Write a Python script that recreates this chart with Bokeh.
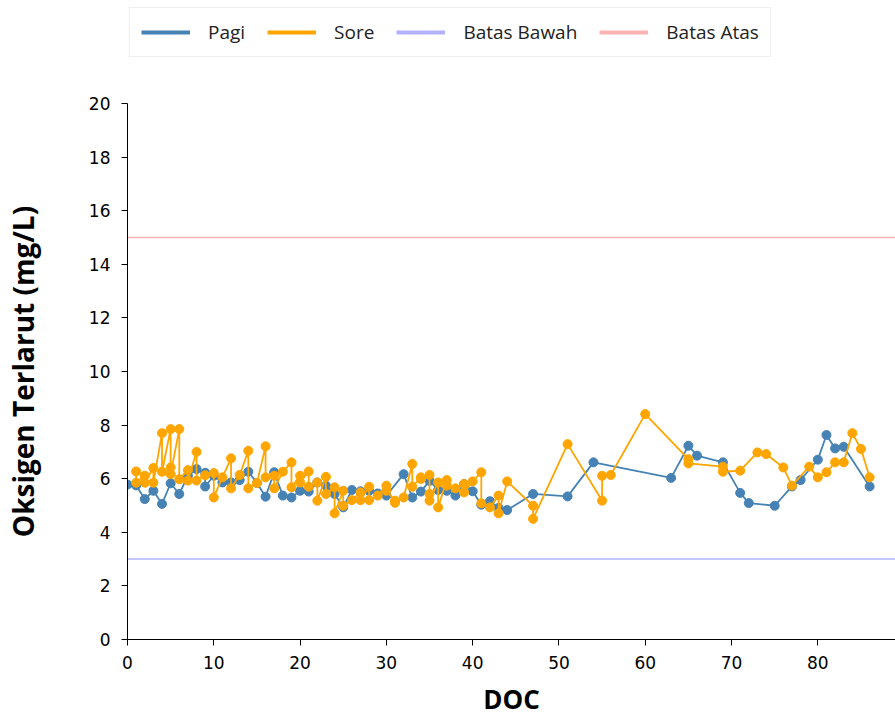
from bokeh.plotting import figure
from bokeh.layouts import column
from bokeh.models import Range1d, SingleIntervalTicker, Legend, LegendItem, Span
from bokeh.embed import file_html
from bokeh.resources import INLINE

# --- data ---
pagi_doc = [0, 1, 2, 3, 4, 5, 6, 7, 8, 9, 9, 10, 11, 12, 13, 14, 15, 16, 17, 18, 19,
            20, 21, 22, 23, 24, 25, 26, 27, 28, 29, 30, 32, 33, 34, 35, 36, 37, 38, 39,
            40, 41, 42, 43, 44, 47, 51, 54, 63, 65, 66, 69, 71, 72, 75, 77, 78, 80,
            81, 82, 83, 86]
pagi_do = [5.78, 5.75, 5.24, 5.55, 5.06, 5.83, 5.43, 6.11, 6.36, 6.22, 5.71, 6.11, 5.86,
           5.86, 5.95, 6.26, 5.84, 5.33, 6.24, 5.37, 5.30, 5.55, 5.52, 5.86, 5.74, 5.43,
           4.93, 5.58, 5.53, 5.55, 5.45, 5.37, 6.17, 5.30, 5.52, 5.92, 5.58, 5.55, 5.37,
           5.80, 5.53, 5.03, 5.16, 4.91, 4.83, 5.43, 5.34, 6.61, 6.03, 7.23, 6.86, 6.61,
           5.47, 5.09, 4.99, 5.71, 5.95, 6.71, 7.63, 7.13, 7.19, 5.71]

sore_doc = [1, 1, 2, 2, 3, 3, 4, 4, 5, 5, 5, 6, 6, 7, 7, 8, 8, 9, 10, 10, 11, 12, 12,
            13, 14, 14, 15, 16, 16, 17, 17, 18, 19, 19, 20, 20, 21, 21, 22, 22, 23, 23,
            24, 24, 25, 25, 26, 27, 27, 28, 28, 29, 30, 30, 31, 31, 32, 33, 33, 34, 34,
            35, 35, 35, 36, 36, 37, 37, 38, 39, 39, 40, 41, 41, 42, 43, 43, 44, 47, 47,
            51, 55, 55, 56, 60, 65, 65, 69, 69, 71, 73, 74, 76, 77, 79, 80, 81, 82, 83,
            84, 85, 86]
sore_do = [6.27, 5.85, 6.11, 5.85, 6.40, 5.85, 7.70, 6.26, 7.85, 6.42, 6.17, 7.85, 5.98,
           6.32, 5.93, 7.00, 5.93, 6.13, 6.21, 5.30, 6.05, 6.76, 5.64, 6.14, 7.04, 5.64,
           5.84, 7.21, 6.05, 6.11, 5.64, 6.26, 6.61, 5.68, 6.11, 5.86, 6.27, 5.70, 5.86,
           5.18, 6.07, 5.43, 5.68, 4.71, 5.55, 4.99, 5.20, 5.49, 5.20, 5.70, 5.20, 5.37,
           5.74, 5.55, 5.18, 5.10, 5.30, 6.55, 5.70, 6.05, 5.99, 6.14, 5.43, 5.18, 5.86,
           4.93, 5.95, 5.74, 5.64, 5.80, 5.49, 5.90, 6.24, 5.08, 4.93, 5.37, 4.71, 5.90,
           4.99, 4.50, 7.29, 5.18, 6.11, 6.14, 8.41, 6.73, 6.57, 6.45, 6.26, 6.30, 6.98,
           6.92, 6.42, 5.74, 6.45, 6.05, 6.24, 6.61, 6.61, 7.70, 7.11, 6.05]

batas_bawah = 3
batas_atas = 15

blue = "#4682b4"
orange = "#ffa500"
nan = float("nan")

# --- main plot ---
p = figure(
    width=895, height=624,
    x_range=Range1d(0, 89.0), y_range=Range1d(0, 20),
    output_backend="svg", toolbar_location=None,
    min_border_left=127, min_border_right=0,
    min_border_top=8, min_border_bottom=80,
    x_axis_label="DOC", y_axis_label="Oksigen Terlarut (mg/L)",
)
p.outline_line_color = None
p.grid.grid_line_color = None

# reference limits
p.add_layout(Span(location=batas_bawah, dimension="width",
                  line_color="blue", line_alpha=0.3, line_width=1.5))
p.add_layout(Span(location=batas_atas, dimension="width",
                  line_color="red", line_alpha=0.3, line_width=1.5))

# series
p.line(pagi_doc, pagi_do, line_color=blue, line_width=1.8)
p.scatter(pagi_doc, pagi_do, size=9, color=blue)
p.line(sore_doc, sore_do, line_color=orange, line_width=1.8)
p.scatter(sore_doc, sore_do, size=9, color=orange)

# axes
p.xaxis.ticker = SingleIntervalTicker(interval=10)
p.yaxis.ticker = SingleIntervalTicker(interval=2)
for ax in (p.xaxis, p.yaxis):
    ax.axis_line_color = "black"
    ax.major_tick_line_color = "black"
    ax.major_tick_out = 6
    ax.major_tick_in = 0
    ax.minor_tick_line_color = None
    ax.major_label_text_font = "DejaVu Sans"
    ax.major_label_text_font_size = "17px"
    ax.major_label_text_color = "black"
    ax.axis_label_text_font = "Open Sans"
    ax.axis_label_text_font_style = "bold"
    ax.axis_label_text_color = "black"
p.xaxis.axis_label_text_font_size = "26px"
p.yaxis.axis_label_text_font_size = "28px"
p.xaxis.major_label_standoff = 10
p.xaxis.axis_label_standoff = 9
p.yaxis.major_label_standoff = 11
p.yaxis.axis_label_standoff = 44

# --- legend strip above the plot (frames are aligned by the column) ---
top = figure(
    width=895, height=95,
    x_range=Range1d(0, 1), y_range=Range1d(0, 1),
    output_backend="svg", toolbar_location=None,
    x_axis_type=None, y_axis_type=None, min_border=0,
)
top.outline_line_color = None
top.grid.grid_line_color = None

# legend-only renderers (thicker sample lines, nothing drawn)
lg_pagi = top.line([nan], [nan], line_color=blue, line_width=4)
lg_sore = top.line([nan], [nan], line_color=orange, line_width=4)
lg_bawah = top.line([nan], [nan], line_color="blue", line_alpha=0.3, line_width=4)
lg_atas = top.line([nan], [nan], line_color="red", line_alpha=0.3, line_width=4)

legend = Legend(items=[
    LegendItem(label="Pagi", renderers=[lg_pagi]),
    LegendItem(label="Sore", renderers=[lg_sore]),
    LegendItem(label="Batas Bawah", renderers=[lg_bawah]),
    LegendItem(label="Batas Atas", renderers=[lg_atas]),
], orientation="horizontal", location=(2, 38))
legend.label_text_font = "Open Sans"
legend.label_text_font_size = "19px"
legend.label_text_color = "#222222"
legend.glyph_width = 49
legend.glyph_height = 20
legend.label_standoff = 18
legend.spacing = 22
legend.padding = 11
legend.margin = 0
legend.border_line_color = "#dddddd"
legend.border_line_width = 1.5
top.add_layout(legend)

layout = column(top, p, spacing=0)
open("out.html", "w").write(file_html(layout, INLINE))
